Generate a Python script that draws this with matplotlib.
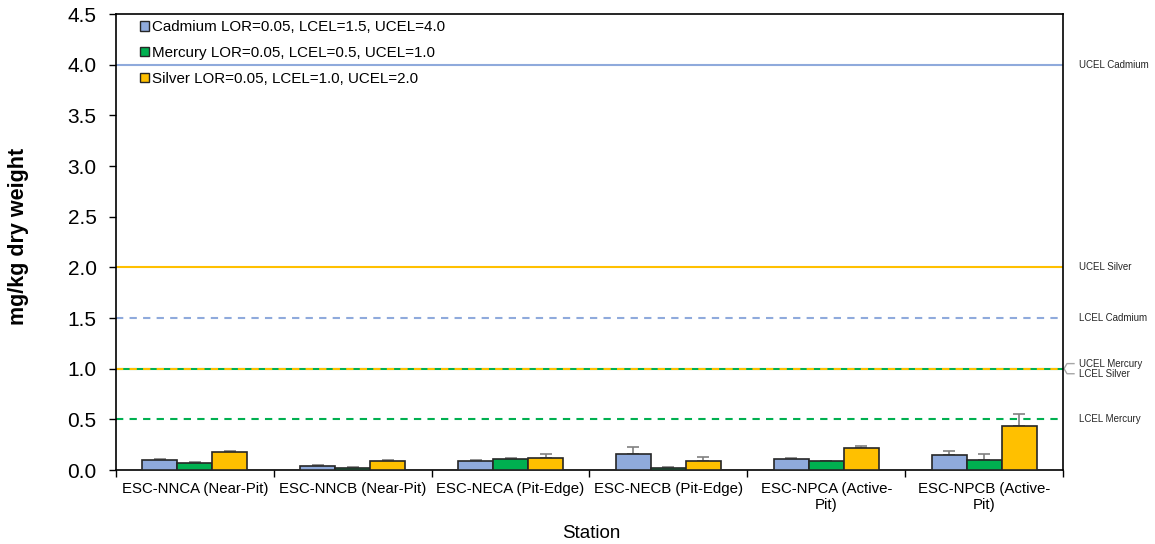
import matplotlib
matplotlib.use("Agg")
import matplotlib.pyplot as plt
import matplotlib.transforms as mtransforms
import numpy as np

plt.rcParams['font.family'] = ['Liberation Sans', 'DejaVu Sans']

stations = ["ESC-NNCA (Near-Pit)", "ESC-NNCB (Near-Pit)", "ESC-NECA (Pit-Edge)",
            "ESC-NECB (Pit-Edge)", "ESC-NPCA (Active-\nPit)", "ESC-NPCB (Active-\nPit)"]
series_names = ["Cadmium LOR=0.05, LCEL=1.5, UCEL=4.0",
                "Mercury LOR=0.05, LCEL=0.5, UCEL=1.0",
                "Silver LOR=0.05, LCEL=1.0, UCEL=2.0"]
cadmium = [0.097, 0.037, 0.090, 0.153, 0.107, 0.150]
cadmium_err = [0.013, 0.016, 0.010, 0.077, 0.016, 0.033]
mercury = [0.067, 0.023, 0.107, 0.023, 0.087, 0.097]
mercury_err = [0.010, 0.002, 0.010, 0.002, 0.006, 0.060]
silver = [0.177, 0.087, 0.123, 0.093, 0.213, 0.433]
silver_err = [0.013, 0.010, 0.030, 0.040, 0.027, 0.124]
colors = ["#8FAADC", "#00B050", "#FFC000"]

# guideline values: (value, colour index, linestyle, label)
guides = [(4.0, 0, "-", "UCEL Cadmium"),
          (2.0, 2, "-", "UCEL Silver"),
          (1.5, 0, "--", "LCEL Cadmium"),
          (1.0, 1, "-", "UCEL Mercury"),
          (1.0, 2, "--", "LCEL Silver"),
          (0.5, 1, "--", "LCEL Mercury")]

W, H = 1155, 544
fig = plt.figure(figsize=(W / 100, H / 100), dpi=100)
ax = fig.add_axes([116 / W, 74 / H, (1063 - 116) / W, (470 - 14) / H])

x = np.arange(len(stations))
w = 0.222
for i, (vals, errs) in enumerate([(cadmium, cadmium_err), (mercury, mercury_err), (silver, silver_err)]):
    ax.bar(x + (i - 1) * w, vals, width=w, color=colors[i], edgecolor="#262626",
           linewidth=1.2, label=series_names[i], zorder=3)
    ax.errorbar(x + (i - 1) * w, vals, yerr=[np.zeros(len(vals)), errs], fmt="none",
                ecolor="#808080", elinewidth=1.2, capsize=4, capthick=1.2, zorder=2)

for val, ci, ls, lab in guides:
    if ls == "--":
        ax.axhline(val, color=colors[ci], linestyle=(0, (3.5, 3)), linewidth=1.5, zorder=1.5)
    else:
        ax.axhline(val, color=colors[ci], linestyle="-", linewidth=1.5, zorder=1)

trans = mtransforms.blended_transform_factory(ax.transAxes, ax.transData)
px = 1.0 / (1063 - 116)
for val, ci, ls, lab in guides:
    if lab == "UCEL Mercury":
        ty = val + 0.05
    elif lab == "LCEL Silver":
        ty = val - 0.05
    else:
        ty = val
    ax.text(1 + 16 * px, ty, lab, transform=trans, fontsize=7, va="center", ha="left",
            color="#262626", clip_on=False)
    if ty != val:
        ax.plot([1 + 1 * px, 1 + 4 * px, 1 + 11 * px], [val, ty, ty], transform=trans,
                color="#A6A6A6", linewidth=1, clip_on=False)

ax.set_xlim(-0.5, len(stations) - 0.5)
ax.set_ylim(0, 4.5)
yt = np.arange(0, 4.51, 0.5)
ax.set_yticks(yt)
ax.set_yticklabels([f"{v:.1f}" for v in yt], fontsize=15)
ax.set_xticks(x)
ax.set_xticklabels(stations, fontsize=10.8, linespacing=1.15)
ax.set_xticks(np.arange(-0.5, len(stations), 1), minor=True)
ax.tick_params(axis="x", which="major", length=0, pad=9)
ax.tick_params(axis="x", which="minor", length=5, width=1, direction="out")
ax.tick_params(axis="y", length=5, width=1, direction="out", pad=9)
for s in ax.spines.values():
    s.set_linewidth(1.2)
    s.set_color("#000000")

fig.text(19 / W, 1 - 236 / H, "mg/kg dry weight", rotation=90, ha="center", va="center",
         fontsize=15.5, fontweight="bold")
fig.text(591 / W, 1 - 533 / H, "Station", ha="center", va="center", fontsize=13.5)

leg = ax.legend(loc="upper left", bbox_to_anchor=(0.014, 1.01), frameon=False, fontsize=10.9,
                handlelength=0.6, handleheight=0.6, handletextpad=0.2, labelspacing=0.78,
                borderaxespad=0.3)
for h in leg.legend_handles:
    h.set_linewidth(1.0)

fig.savefig("out.png", dpi=100)
